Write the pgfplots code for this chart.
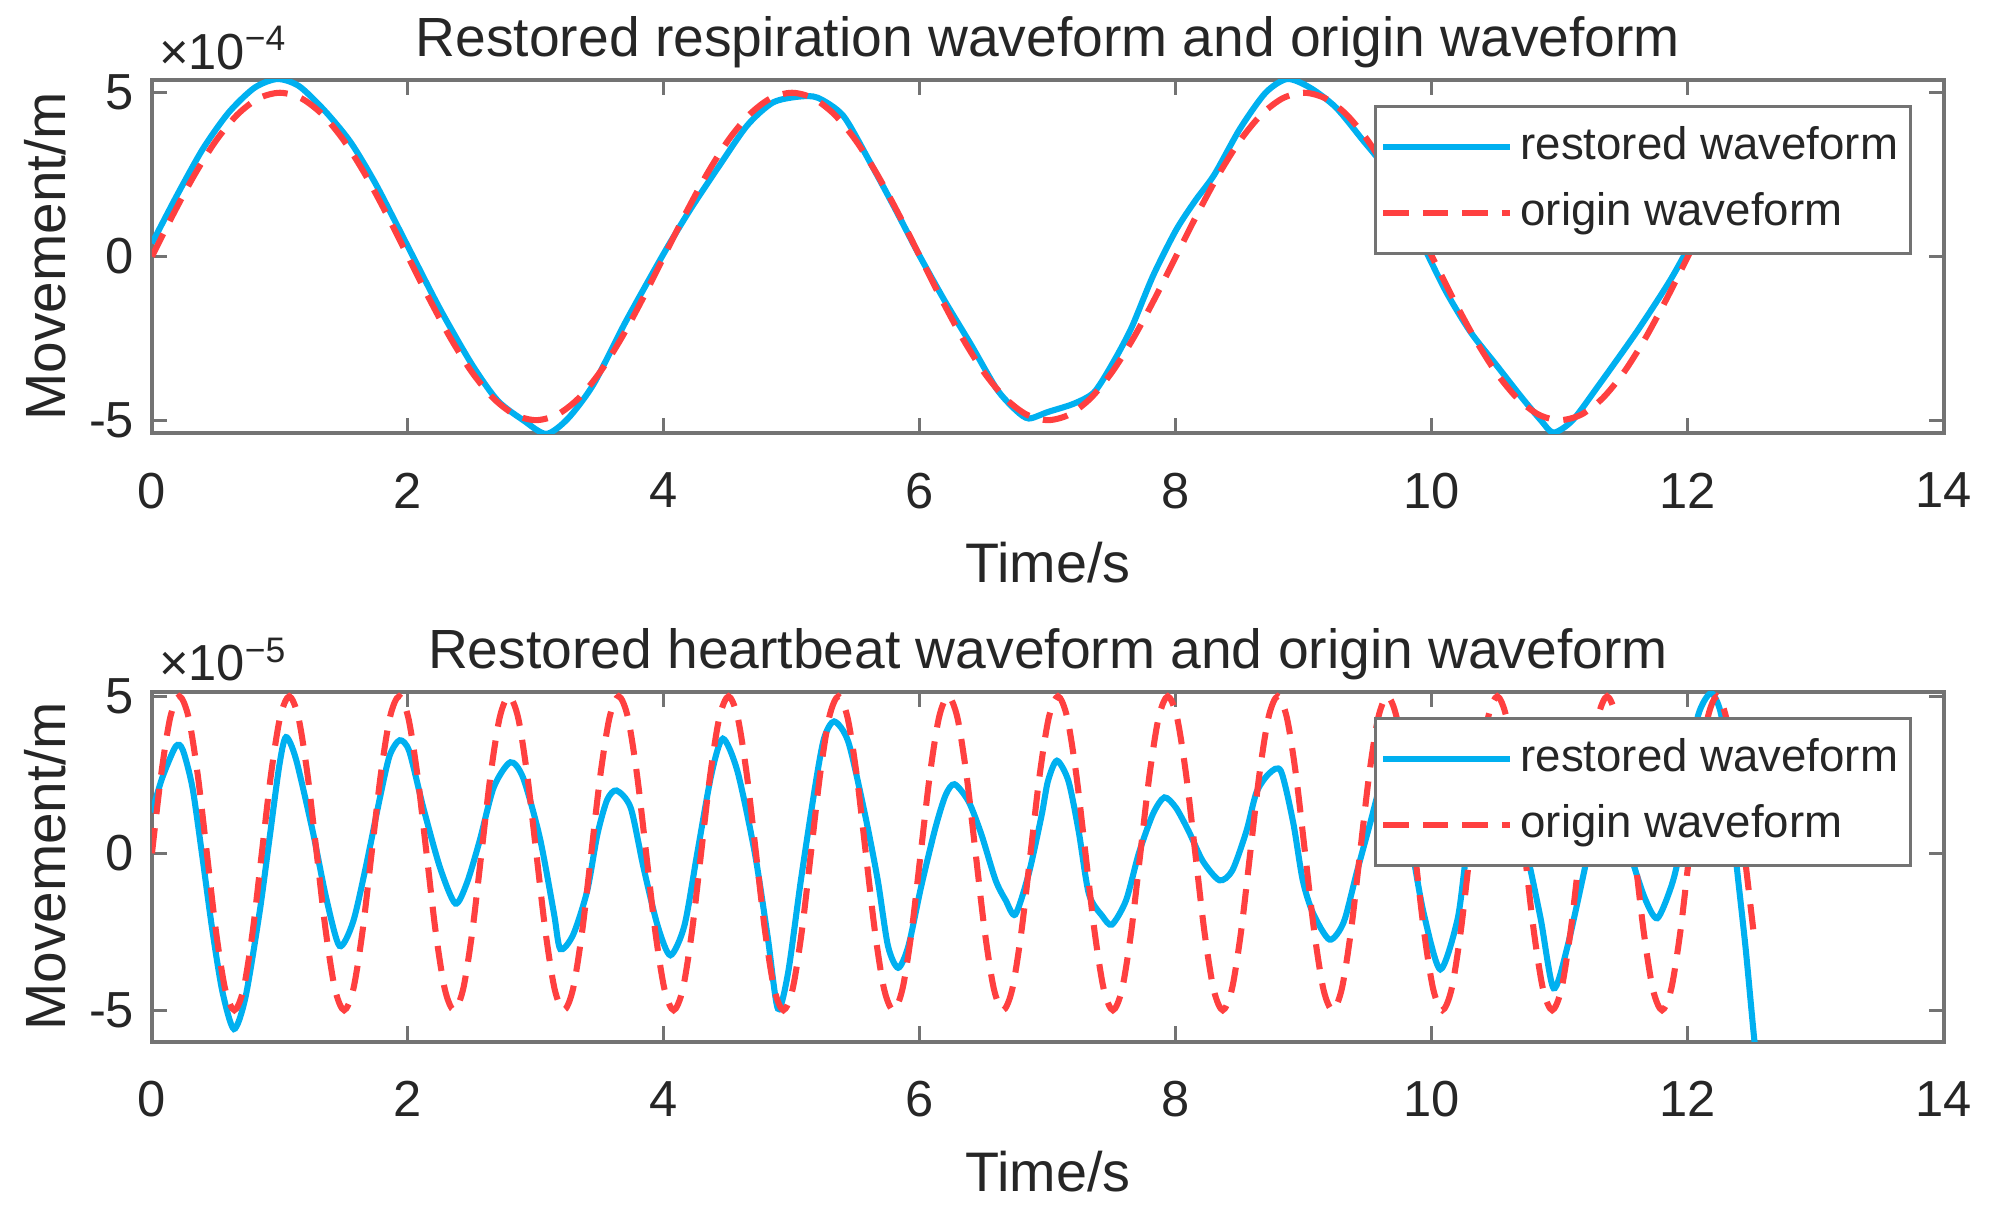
\documentclass[border=0pt]{standalone}
\usepackage{fontspec}
\setmainfont{Liberation Sans}
\usepackage{pgfplots}
\pgfplotsset{compat=1.18}
\definecolor{mblue}{RGB}{0,176,240}
\definecolor{mred}{RGB}{255,64,64}
\definecolor{txt}{RGB}{38,38,38}
\definecolor{frm}{RGB}{115,115,115}
\pgfplotsset{
  wave/.style={
    scale only axis, width=353.75pt,
    xmin=0, xmax=14, xtick={0,2,...,14}, ytick={-5,0,5},
    clip mode=individual,
    axis line style={draw=frm, line width=0.8pt},
    tick style={draw=frm, line width=0.6pt},
    major tick length=3pt, tick align=inside,
    ticklabel style={font=\fontsize{10}{12}\selectfont, text=txt},
    /pgf/number format/assume math mode=true,
    xticklabel style={yshift=-4.3pt},
    every axis title/.style={at={(0.5,1)}, anchor=base, yshift=4.5pt, font=\fontsize{10.9}{12}\selectfont, text=txt},
    every axis x label/.style={at={(axis description cs:0.5,0)}, anchor=north, yshift=-18pt, font=\fontsize{11}{13}\selectfont, text=txt},
    every axis y label/.style={at={(axis description cs:-0.0594,0.5)}, rotate=90, anchor=center, font=\fontsize{11.2}{13}\selectfont, text=txt},
    xlabel={Time/s}, ylabel={Movement/m},
    legend cell align=left,
    legend image code/.code={\draw[#1] (0pt,0pt) -- (25pt,0pt);},
    legend style={at={(rel axis cs:1,1)}, anchor=north east, xshift=-6.25pt, yshift=-5pt,
      draw=frm, line width=0.6pt, fill=white, font=\fontsize{9}{11}\selectfont, text=txt,
      inner xsep=1pt, inner ysep=1.5pt, nodes={inner xsep=1.5pt, inner ysep=2.5pt}},
  },
  rest/.style={mblue, line width=1.2pt, smooth, tension=0.45},
  orig/.style={mred, line width=1.2pt, dash pattern=on 5pt off 2.8pt, smooth, tension=0.5},
}
\begin{document}
\begin{tikzpicture}
\path (0,0) rectangle (392pt,240.5pt);
% ---------------- top: respiration ----------------
\begin{axis}[wave, at={(30pt,155.1pt)}, anchor=south west, height=69.8pt,
  ymin=-5.4, ymax=5.4,
  title={Restored respiration waveform and origin waveform}]
\addplot[rest] coordinates {
(0,0.4) (0.2,1.9) (0.4,3.3) (0.6,4.4) (0.8,5.15) (0.98,5.42) (1.15,5.2) (1.35,4.45) (1.55,3.5) (1.75,2.2)
(2.0,0.3) (2.25,-1.6) (2.5,-3.3) (2.7,-4.4) (2.9,-5.0) (3.08,-5.42) (3.25,-4.95) (3.45,-3.9) (3.7,-2.0)
(4.0,0.1) (4.2,1.4) (4.42,2.7) (4.65,4.0) (4.85,4.7) (5.05,4.88) (5.2,4.85) (5.4,4.3) (5.6,2.95) (5.8,1.5)
(6.0,0.0) (6.2,-1.4) (6.4,-2.7) (6.6,-4.05) (6.75,-4.7) (6.85,-4.95) (7.0,-4.75) (7.2,-4.5) (7.36,-4.15)
(7.5,-3.3) (7.65,-2.2) (7.82,-0.6) (8.0,0.8) (8.15,1.7) (8.3,2.5) (8.5,3.9) (8.7,5.0) (8.87,5.42) (9.05,5.15)
(9.25,4.55) (9.45,3.6) (9.65,2.6) (9.85,1.0) (10.1,-1.0) (10.3,-2.3) (10.5,-3.3) (10.7,-4.3) (10.85,-5.0)
(10.95,-5.38) (11.1,-5.0) (11.3,-3.95) (11.6,-2.3) (11.85,-0.8) (12.0,0.25) (12.2,1.8) (12.5,3.8)
};
\addplot[orig] coordinates {
(0,0) (0.1667,1.294) (0.3333,2.5) (0.5,3.536) (0.6667,4.33) (0.8333,4.83) (1,5) (1.1667,4.83) (1.3333,4.33) (1.5,3.536) (1.6667,2.5) (1.8333,1.294)
(2,0) (2.1667,-1.294) (2.3333,-2.5) (2.5,-3.536) (2.6667,-4.33) (2.8333,-4.83) (3,-5) (3.1667,-4.83) (3.3333,-4.33) (3.5,-3.536) (3.6667,-2.5) (3.8333,-1.294)
(4,0) (4.1667,1.294) (4.3333,2.5) (4.5,3.536) (4.6667,4.33) (4.8333,4.83) (5,5) (5.1667,4.83) (5.3333,4.33) (5.5,3.536) (5.6667,2.5) (5.8333,1.294)
(6,0) (6.1667,-1.294) (6.3333,-2.5) (6.5,-3.536) (6.6667,-4.33) (6.8333,-4.83) (7,-5) (7.1667,-4.83) (7.3333,-4.33) (7.5,-3.536) (7.6667,-2.5) (7.8333,-1.294)
(8,0) (8.1667,1.294) (8.3333,2.5) (8.5,3.536) (8.6667,4.33) (8.8333,4.83) (9,5) (9.1667,4.83) (9.3333,4.33) (9.5,3.536) (9.6667,2.5) (9.8333,1.294)
(10,0) (10.1667,-1.294) (10.3333,-2.5) (10.5,-3.536) (10.6667,-4.33) (10.8333,-4.83) (11,-5) (11.1667,-4.83) (11.3333,-4.33) (11.5,-3.536) (11.6667,-2.5) (11.8333,-1.294)
(12,0) (12.1667,1.294) (12.3333,2.5) (12.5,3.536)
};
\legend{restored waveform, origin waveform}
\node[anchor=base west, inner sep=0pt, xshift=1.2pt, yshift=2.1pt, font=\fontsize{10}{12}\selectfont, text=txt] at (rel axis cs:0,1) {×10\textsuperscript{−4}};
\end{axis}
% ---------------- bottom: heartbeat ----------------
\begin{axis}[wave, at={(30pt,35pt)}, anchor=south west, height=69.1pt,
  ymin=-6, ymax=5.15,
  title={Restored heartbeat waveform and origin waveform}]
\addplot[rest] coordinates {
(0,1.3) (0.08,2.4) (0.185,3.4) (0.24,3.3) (0.316,2.1) (0.39,0.0) (0.47,-2.4) (0.55,-4.4) (0.64,-5.6) (0.73,-4.6)
(0.84,-1.9) (0.916,0.4) (0.995,2.8) (1.047,3.7) (1.125,3.0) (1.256,0.7) (1.36,-1.4) (1.465,-2.95) (1.57,-2.2)
(1.67,-0.45) (1.78,1.75) (1.856,3.1) (1.935,3.6) (2.01,3.25) (2.12,1.45) (2.25,-0.45) (2.37,-1.6) (2.46,-0.95)
(2.56,0.4) (2.67,2.1) (2.8,2.9) (2.9,2.4) (3.03,0.5) (3.14,-1.9) (3.19,-3.05) (3.29,-2.6) (3.4,-1.2) (3.48,0.6)
(3.556,1.7) (3.63,2.0) (3.74,1.45) (3.84,-0.45) (3.95,-2.3) (4.05,-3.25) (4.16,-2.3) (4.26,0.0) (4.37,2.5)
(4.46,3.65) (4.575,2.6) (4.71,0.0) (4.81,-2.65) (4.89,-4.95) (4.97,-3.8) (5.07,-0.85) (5.18,2.1) (5.25,3.65)
(5.33,4.2) (5.44,3.55) (5.57,1.25) (5.67,-0.85) (5.75,-2.95) (5.83,-3.65) (5.91,-2.95) (6.01,-1.05) (6.12,0.8)
(6.2,1.85) (6.27,2.2) (6.38,1.65) (6.48,0.6) (6.59,-0.85) (6.67,-1.5) (6.745,-1.95) (6.85,-0.65) (6.95,1.2)
(7.0,2.3) (7.07,2.95) (7.16,2.3) (7.24,0.7) (7.32,-1.3) (7.425,-2.0) (7.5,-2.27) (7.61,-1.5) (7.71,0.0)
(7.82,1.25) (7.91,1.78) (8.0,1.45) (8.1,0.7) (8.21,-0.25) (8.34,-0.86) (8.44,-0.55) (8.55,0.7) (8.63,1.95)
(8.73,2.55) (8.82,2.62) (8.915,1.0) (8.99,-0.85) (9.07,-1.9) (9.2,-2.75) (9.31,-2.2) (9.41,-0.65) (9.52,1.0)
(9.62,2.5) (9.7,2.9) (9.78,1.7) (9.85,0.0) (9.935,-1.9) (10.065,-3.7) (10.2,-2.1) (10.27,0.0) (10.37,2.3)
(10.45,3.2) (10.53,2.6) (10.65,1.0) (10.74,0.0) (10.85,-2.1) (10.95,-4.3) (11.06,-2.95) (11.22,0.0) (11.3,1.5)
(11.38,2.5) (11.46,1.6) (11.55,0.0) (11.66,-1.4) (11.76,-2.07) (11.87,-1.05) (11.93,0.0) (12.0,2.5) (12.08,4.4)
(12.18,5.1) (12.26,4.4) (12.32,2.2) (12.37,0.0) (12.45,-3.0) (12.52,-6.0) (12.56,-7.2)
};
\addplot[orig] coordinates {
(0,0) (0.0715,2.5) (0.143,4.33) (0.2145,5) (0.286,4.33) (0.3575,2.5) (0.429,0) (0.5005,-2.5) (0.572,-4.33) (0.6435,-5) (0.715,-4.33) (0.7865,-2.5)
(0.858,0) (0.9295,2.5) (1.001,4.33) (1.0725,5) (1.144,4.33) (1.2155,2.5) (1.287,0) (1.3585,-2.5) (1.43,-4.33) (1.5015,-5) (1.573,-4.33) (1.6445,-2.5)
(1.716,0) (1.7875,2.5) (1.859,4.33) (1.9305,5) (2.002,4.33) (2.0735,2.5) (2.145,0) (2.2165,-2.5) (2.288,-4.33) (2.3595,-5) (2.431,-4.33) (2.5025,-2.5)
(2.574,0) (2.6455,2.5) (2.717,4.33) (2.7885,5) (2.86,4.33) (2.9315,2.5) (3.003,0) (3.0745,-2.5) (3.146,-4.33) (3.2175,-5) (3.289,-4.33) (3.3605,-2.5)
(3.432,0) (3.5035,2.5) (3.575,4.33) (3.6465,5) (3.718,4.33) (3.7895,2.5) (3.861,0) (3.9325,-2.5) (4.004,-4.33) (4.0755,-5) (4.147,-4.33) (4.2185,-2.5)
(4.29,0) (4.3615,2.5) (4.433,4.33) (4.5045,5) (4.576,4.33) (4.6475,2.5) (4.719,0) (4.7905,-2.5) (4.862,-4.33) (4.9335,-5) (5.005,-4.33) (5.0765,-2.5)
(5.148,0) (5.2195,2.5) (5.291,4.33) (5.3625,5) (5.434,4.33) (5.5055,2.5) (5.577,0) (5.6485,-2.5) (5.72,-4.33) (5.7915,-5) (5.863,-4.33) (5.9345,-2.5)
(6.006,0) (6.0775,2.5) (6.149,4.33) (6.2205,5) (6.292,4.33) (6.3635,2.5) (6.435,0) (6.5065,-2.5) (6.578,-4.33) (6.6495,-5) (6.721,-4.33) (6.7925,-2.5)
(6.864,0) (6.9355,2.5) (7.007,4.33) (7.0785,5) (7.15,4.33) (7.2215,2.5) (7.293,0) (7.3645,-2.5) (7.436,-4.33) (7.5075,-5) (7.579,-4.33) (7.6505,-2.5)
(7.722,0) (7.7935,2.5) (7.865,4.33) (7.9365,5) (8.008,4.33) (8.0795,2.5) (8.151,0) (8.2225,-2.5) (8.294,-4.33) (8.3655,-5) (8.437,-4.33) (8.5085,-2.5)
(8.58,0) (8.6515,2.5) (8.723,4.33) (8.7945,5) (8.866,4.33) (8.9375,2.5) (9.009,0) (9.0805,-2.5) (9.152,-4.33) (9.2235,-5) (9.295,-4.33) (9.3665,-2.5)
(9.438,0) (9.5095,2.5) (9.581,4.33) (9.6525,5) (9.724,4.33) (9.7955,2.5) (9.867,0) (9.9385,-2.5) (10.01,-4.33) (10.0815,-5) (10.153,-4.33) (10.2245,-2.5)
(10.296,0) (10.3675,2.5) (10.439,4.33) (10.5105,5) (10.582,4.33) (10.6535,2.5) (10.725,0) (10.7965,-2.5) (10.868,-4.33) (10.9395,-5) (11.011,-4.33) (11.0825,-2.5)
(11.154,0) (11.2255,2.5) (11.297,4.33) (11.3685,5) (11.44,4.33) (11.5115,2.5) (11.583,0) (11.6545,-2.5) (11.726,-4.33) (11.7975,-5) (11.869,-4.33) (11.9405,-2.5)
(12.012,0) (12.0835,2.5) (12.155,4.33) (12.2265,5) (12.298,4.33) (12.3695,2.5) (12.441,0) (12.5125,-2.5)
};
\legend{restored waveform, origin waveform}
\node[anchor=base west, inner sep=0pt, xshift=1.2pt, yshift=2.1pt, font=\fontsize{10}{12}\selectfont, text=txt] at (rel axis cs:0,1) {×10\textsuperscript{−5}};
\end{axis}
\end{tikzpicture}
\end{document}
